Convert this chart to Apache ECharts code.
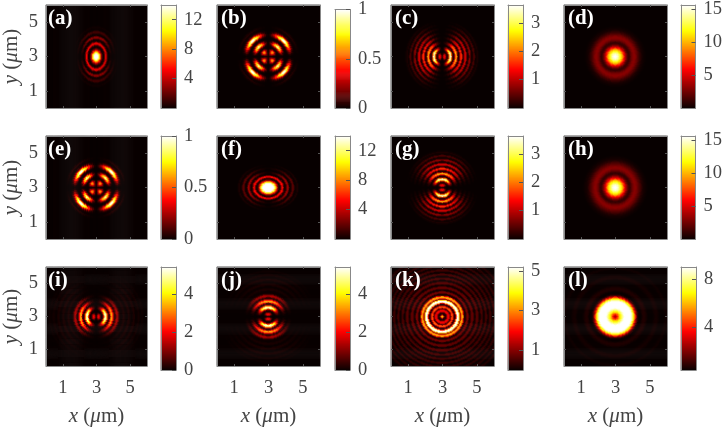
<!DOCTYPE html>
<html>
<head>
<meta charset="utf-8">
<script src="https://cdn.jsdelivr.net/npm/echarts@6/dist/echarts.min.js"></script>
<style>
html, body, #main { margin: 0; width: 725px; height: 428px; background: #fff; }
</style>
</head>
<body>
<div id="main"></div>
<script>
const profileA = [14,14,14,13.5,12.5,11,8.5,6,3.5,1.8,0.7,0.2,0.3,1.2,3.5,5,4,2,0.5,0.1,0.5,2,3,2.2,0.8,0.1,0.2,0.7,1.2,1.1,0.5,0.1,0.05,0.1,0.2,0.1,0.02];
const profileF = [14,14,14,14,14,14,14,13,11,8.5,6,3.5,1.5,0.4,0.6,3,5.5,5,2.2,0.5,0.2,1.2,3,3.2,1.6,0.3,0.1,0.5,1.6,1.8,0.9,0.2,0.05,0.2,0.5,0.2,0.02];
const profileB = [0,0.03,0.08,0.18,0.32,0.48,0.6,0.6,0.42,0.2,0.06,0.02,0.08,0.25,0.55,0.85,0.9,0.65,0.32,0.1,0.02,0.02,0.08,0.28,0.62,0.95,1,0.8,0.45,0.2,0.07,0.02,0.01,0.02,0.05,0.03,0.01];
const profileC = [0.2,0.7,1.2,1.4,1.1,0.4,0.1,0.6,2.1,3.4,3.6,2.3,0.8,0.05,0.4,1.5,2.4,2,0.8,0.08,0.3,1.2,1.7,1,0.2,0.1,0.7,1.2,0.8,0.15,0.05,0.4,0.8,0.5,0.1,0.05,0.25,0.4,0.2,0.03,0.05,0.12,0.05,0.01];
const profileD = [15.7,15.7,15.2,14.8,14,13.2,12.2,11,9.8,8.3,6.8,5.4,4.1,2.9,1.9,1.3,1.1,1.3,1.8,2.3,2.7,3,3.1,3,2.7,2.4,2,1.6,1.2,0.9,0.6,0.4,0.3,0.2,0.1,0.05];
const profileH = [15.7,15.7,15.4,15,14.3,13.5,12.6,11.6,10.4,9,7.6,6.2,4.8,3.6,2.5,1.7,1.2,1,1.3,1.8,2.3,2.7,3,3.1,3,2.8,2.5,2.1,1.8,1.5,1.1,0.8,0.6,0.4,0.3,0.2,0.1,0.05];
const profileI = [0.1,1,1.8,2.1,1.8,0.9,0.2,0.1,0.9,2.5,4.5,5.4,4.8,3,1.2,0.2,0.6,2,3.2,3.3,2.2,0.9,0.2,0.5,1.1,1.4,1.1,0.5,0.1,0.03,0.02,0.05,0.12,0.16,0.1,0.03,0.01,0.05,0.13,0.16,0.1,0.03,0.01,0.05,0.12,0.14,0.08,0.02,0.02,0.05,0.1,0.08,0.03,0.01,0.03,0.05,0.03];
const profileK = [3.8,3.2,1.5,0.3,0.1,0.5,1.5,1.9,1.6,0.6,0.6,2.2,2.7,1.5,0.3,0.2,2,4.5,5.2,5.2,3.5,1,2.5,3.3,3,1.6,0.3,0.1,0.5,0.9,0.8,0.3,0.03,0.2,0.6,0.75,0.6,0.18,0.03,0.2,0.55,0.65,0.45,0.1,0.05,0.35,0.55,0.45,0.1,0.05,0.35,0.5,0.35,0.07,0.05,0.3,0.45,0.3,0.07,0.05,0.28,0.4,0.25,0.05,0.05,0.25,0.35,0.2,0.04,0.05,0.2,0.3,0.18,0.03,0.05,0.18,0.25,0.15,0.03];
const profileL = [2.5,2.8,3.5,4.3,5.2,6,6.7,7.3,7.9,8.4,8.8,9,9,9,9,9,9,9,9,8.7,8,7,5.8,4.4,3,1.9,1.1,0.6,0.45,0.45,0.5,0.6,0.7,0.75,0.75,0.7,0.6,0.52,0.46,0.45,0.45,0.45,0.45,0.45,0.47,0.52,0.58,0.62,0.62,0.58,0.52,0.47,0.45,0.45,0.45,0.45,0.45,0.47,0.52,0.55,0.52,0.47,0.45];

// brightness of the rings by angle, one value per 5 degrees from the x axis
const angularA = [0.05,0.05,0.1,0.15,0.2,0.25,0.3,0.4,0.5,0.6,0.7,0.8,0.9,0.95,1,1,1,1,1];
const angularB = [0,0.03,0.12,0.25,0.42,0.6,0.75,0.88,0.97,1,0.97,0.88,0.75,0.6,0.42,0.25,0.12,0.03,0];
const angularC = [1,1,1,0.98,0.95,0.92,0.88,0.84,0.8,0.72,0.62,0.5,0.38,0.26,0.16,0.09,0.04,0.01,0];
const angularI = [1,1,1,0.98,0.96,0.93,0.88,0.82,0.74,0.65,0.54,0.43,0.32,0.22,0.14,0.08,0.04,0.01,0];
const angularFlat = [1,1,1,1,1,1,1,1,1,1,1,1,1,1,1,1,1,1,1];

const panelLabels = ['(a)','(b)','(c)','(d)','(e)','(f)','(g)','(h)','(i)','(j)','(k)','(l)'];
const barMin = [0,0,0,0,0,0,0,0,0,0,0,0.44];
const barMax = [14,1,3.63,15.7,1,14,3.63,15.7,5.43,5.43,5.2,9];
const barTicks = [[4,8,12],[0,0.5,1],[1,2,3],[5,10,15],[0,0.5,1],[4,8,12],[1,2,3],[5,10,15],[0,2,4],[0,2,4],[1,3,5],[4,8]];
const axisTicks = [1,3,5];

const profiles = [profileA,profileB,profileC,profileD,profileB,profileF,profileC,profileH,profileI,profileI,profileK,profileL];
const angulars = [angularA,angularB,angularC,angularFlat,angularB,angularA,angularC,angularFlat,angularI,angularI,angularFlat,angularFlat];
// true means the pattern is turned by 90 degrees
const turned = [false,false,false,false,false,true,true,false,false,true,false,false];
const stretchX = [1.3,1,1,1,1,1,1,1,1,1,1,1];
const stretchY = [1,1,1,1,1,1.3,1,1,1,1,1,1];
const coreRadius = [0.95,0,0,0,0,0.95,0,0,0,0,0,0];

const hot = ['#0a0000','#5a0000','#aa0000','#ff0000','#ff5500','#ffaa00','#ffff00','#ffff80','#ffffff'];
const N = 103, step = 0.05, font = 'Liberation Serif', inkColor = '#444', boxColor = '#888';
const colLeft = [44,217,391,564], barLeft = [161,335,508,681], rowTop = [5,136,267];

function panelCells(k) {
    const out = [];
    for (let i = 0; i < N; i++) {
        for (let j = 0; j < N; j++) {
            const x = (i + 0.5) / N * 6 - 3, y = (j + 0.5) / N * 6 - 3;
            const r = Math.hypot(x * stretchX[k], y * stretchY[k]);
            let deg = Math.atan2(Math.abs(y), Math.abs(x)) * 180 / Math.PI;
            if (turned[k]) deg = 90 - deg;
            let v = profiles[k][Math.round(r / step)] || 0;
            if (r >= coreRadius[k]) v *= angulars[k][Math.round(deg / 5)];
            out.push([i, j, v]);
        }
    }
    return out;
}

const grid = [], xAxis = [], yAxis = [], series = [], title = [], visualMap = [];
const idx = n => Array.from({length: n}, (_, i) => i);

function valueAxis(g, position, min, max, ticks, tickLen, labelOn, margin) {
    return {
        type: 'value', gridIndex: g, position: position, min: min, max: max, z: 5,
        axisLine: {show: true, onZero: false, lineStyle: {color: boxColor, width: 1}},
        axisTick: {show: ticks.length > 0, inside: true, length: tickLen, customValues: ticks, lineStyle: {color: '#555'}},
        axisLabel: {show: labelOn, customValues: ticks, color: inkColor, fontFamily: font, fontSize: 18.5, margin: margin},
        splitLine: {show: false}
    };
}
const axisName = (axis, letter, gap) => Object.assign(axis, {
    name: '{i|' + letter + '} ({i|μ}m)', nameLocation: 'middle', nameGap: gap,
    nameTextStyle: {color: inkColor, fontFamily: font, fontSize: 21, rich: {i: {fontStyle: 'italic', fontFamily: font, fontSize: 21, color: inkColor}}}
});

// heat panels first so series index k is panel k
panelLabels.forEach((label, k) => {
    const col = k % 4, row = Math.floor(k / 4), g = grid.length;
    grid.push({left: colLeft[col], top: rowTop[row], width: N, height: N});
    const xi = xAxis.length, yi = yAxis.length;
    xAxis.push({type: 'category', gridIndex: g, data: idx(N), show: false});
    yAxis.push({type: 'category', gridIndex: g, data: idx(N), show: false});
    const bottom = valueAxis(g, 'bottom', 0, 6, axisTicks, 2, row === 2, 13);
    const left = valueAxis(g, 'left', 0, 6, axisTicks, 2, col === 0, 8);
    if (row === 2) axisName(bottom, 'x', 40);
    if (col === 0) axisName(left, 'y', 24);
    xAxis.push(bottom, valueAxis(g, 'top', 0, 6, axisTicks, 2, false, 0));
    yAxis.push(left, valueAxis(g, 'right', 0, 6, axisTicks, 2, false, 0));
    series.push({type: 'heatmap', xAxisIndex: xi, yAxisIndex: yi, data: panelCells(k), progressive: 0, silent: true, animation: false});
    title.push({text: label, left: colLeft[col] - 1, top: rowTop[row] - 2, textStyle: {color: '#fff', fontFamily: font, fontWeight: 'bold', fontSize: 21}});
    visualMap.push({show: false, type: 'continuous', dimension: 2, min: barMin[k], max: barMax[k], seriesIndex: [k, k + 12], inRange: {color: hot}});
});

// colour bars
panelLabels.forEach((label, k) => {
    const col = k % 4, row = Math.floor(k / 4), g = grid.length;
    grid.push({left: barLeft[col], top: rowTop[row], width: 15, height: N});
    const xi = xAxis.length, yi = yAxis.length;
    xAxis.push({type: 'category', gridIndex: g, data: [0], show: false});
    yAxis.push({type: 'category', gridIndex: g, data: idx(N), show: false});
    xAxis.push(valueAxis(g, 'bottom', 0, 1, [], 0, false, 0), valueAxis(g, 'top', 0, 1, [], 0, false, 0));
    yAxis.push(valueAxis(g, 'left', barMin[k], barMax[k], [], 0, false, 0), valueAxis(g, 'right', barMin[k], barMax[k], barTicks[k], 4, true, 8));
    const ramp = idx(N).map(j => [0, j, barMin[k] + (barMax[k] - barMin[k]) * (j + 0.5) / N]);
    series.push({type: 'heatmap', xAxisIndex: xi, yAxisIndex: yi, data: ramp, progressive: 0, silent: true, animation: false});
});

const chart = echarts.init(document.getElementById('main'));
chart.setOption({animation: false, title, grid, xAxis, yAxis, series, visualMap});
</script>
</body>
</html>
